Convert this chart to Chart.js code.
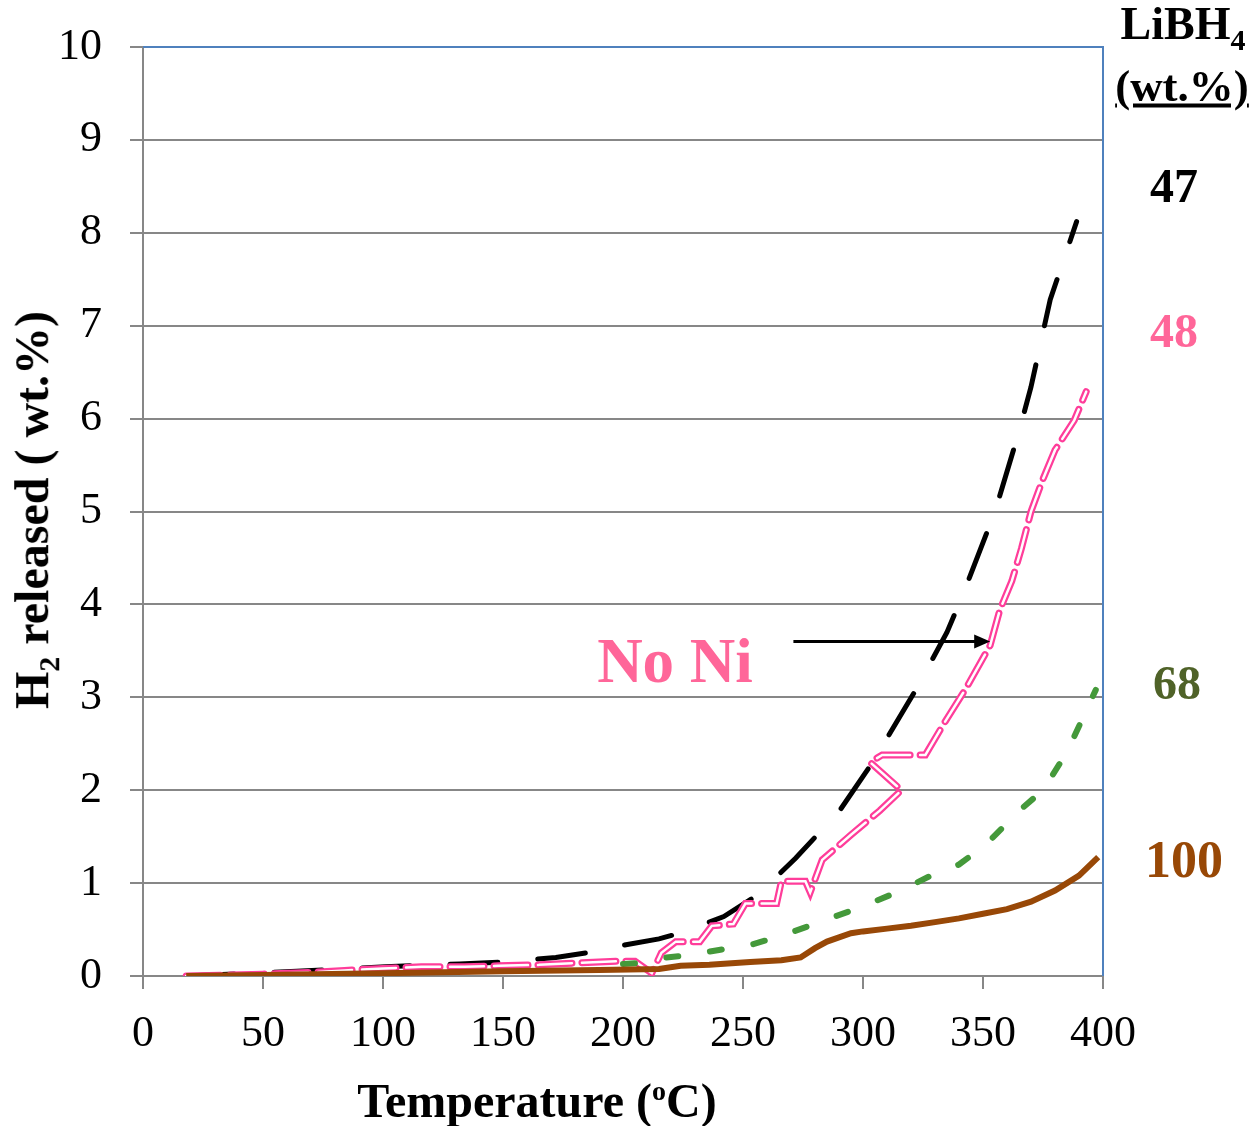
<!DOCTYPE html>
<html>
<head>
<meta charset="utf-8">
<script src="https://cdn.jsdelivr.net/npm/chart.js@4"></script>
<style>
  body { margin: 0; background: #fff; }
  #wrap { position: relative; width: 1253px; height: 1126px; font-family: 'Liberation Serif', 'Times New Roman', serif; }
  #wrap canvas { position: absolute; left: 0; top: 0; }
  .lbl { position: absolute; font-weight: bold; line-height: 1; white-space: nowrap; transform: translate(-50%, -50%); }
</style>
</head>
<body>
<div id="wrap">
  <canvas id="chart" width="1253" height="1126"></canvas>
  <div class="lbl" style="left:36px; top:510px; font-size:48px; transform: translate(-50%,-50%) rotate(-90deg);">H<sub style="font-size:30px;">2</sub> released ( wt.%)</div>
  <div class="lbl" style="left:537px; top:1101px; font-size:48px;">Temperature (<sup style="font-size:28px;">o</sup>C)</div>
  <div class="lbl" style="left:1183px; top:28px; font-size:46px;">LiBH<sub style="font-size:30px;">4</sub></div>
  <div class="lbl" style="left:1182px; top:86px; font-size:45px; text-decoration: underline;">(wt.%)</div>
  <div class="lbl" style="left:1174px; top:186px; font-size:48px; color:#000;">47</div>
  <div class="lbl" style="left:1174px; top:331px; font-size:48px; color:#ff6699;">48</div>
  <div class="lbl" style="left:1177px; top:683px; font-size:48px; color:#4f6228;">68</div>
  <div class="lbl" style="left:1184px; top:860px; font-size:52px; color:#984806;">100</div>
  <div class="lbl" style="left:675px; top:661px; font-size:63px; color:#ff6699;">No Ni</div>
</div>
<script>
// 47 wt.% LiBH4
const tempBlack = [18, 64, 101, 132, 150, 172, 185, 200, 215, 225, 242, 256, 272, 290, 304, 322, 335, 342, 355, 365, 370, 378, 389];
const h2Black   = [0, 0.05, 0.1, 0.13, 0.15, 0.2, 0.25, 0.33, 0.4, 0.47, 0.64, 0.87, 1.27, 1.77, 2.3, 3.08, 3.7, 4.13, 5.0, 5.86, 6.34, 7.28, 8.12];

// 48 wt.% LiBH4 (no Ni) - zig-zags around 305 C
const tempPink = [18, 50, 70, 84, 100, 116, 134, 148, 165, 180, 197, 205, 212, 216, 222, 232, 237, 246, 251, 264, 266, 276, 278, 283, 295, 307, 316, 303, 308, 326, 334, 343, 353, 357, 362, 366, 370, 375, 380, 388, 393];
const h2Pink   = [0, 0.02, 0.04, 0.06, 0.08, 0.1, 0.1, 0.11, 0.12, 0.14, 0.16, 0.16, 0.03, 0.25, 0.37, 0.37, 0.54, 0.56, 0.78, 0.78, 1.02, 1.02, 0.9, 1.25, 1.52, 1.78, 2.0, 2.3, 2.38, 2.38, 2.73, 3.1, 3.56, 3.94, 4.25, 4.6, 5.0, 5.35, 5.66, 5.98, 6.29];

// 68 wt.% LiBH4
const tempGreen = [200, 208, 218, 226, 240, 254, 268, 284, 298, 315, 329, 340, 351, 366, 375, 385, 397];
const h2Green   = [0.13, 0.14, 0.2, 0.22, 0.28, 0.34, 0.45, 0.6, 0.73, 0.91, 1.09, 1.2, 1.41, 1.8, 2.0, 2.41, 3.08];

// 100 wt.% LiBH4
const tempBrown = [18, 50, 100, 150, 190, 215, 224, 236, 253, 266, 274, 280, 285, 295, 300, 310, 320, 330, 340, 350, 360, 370, 380, 390, 398];
const h2Brown   = [0, 0.01, 0.03, 0.05, 0.065, 0.075, 0.11, 0.12, 0.15, 0.17, 0.2, 0.3, 0.37, 0.46, 0.48, 0.51, 0.54, 0.58, 0.62, 0.67, 0.72, 0.8, 0.92, 1.08, 1.28];

const xTicks = [0, 50, 100, 150, 200, 250, 300, 350, 400];
const yTicks = [0, 1, 2, 3, 4, 5, 6, 7, 8, 9, 10];

// arrow pointing at the no-Ni curve
const arrowFrom = [271, 3.6];
const arrowTo = [353, 3.6];

const pts = (xs, ys) => xs.map((x, i) => ({ x: x, y: ys[i] }));
const font = "'Liberation Serif', 'Times New Roman', serif";
const gridCol = "#878787";

const extras = {
    id: "extras",
    afterDatasetsDraw(chart) {
        const ctx = chart.ctx;
        const a = chart.chartArea;
        const xs = chart.scales.x, ys = chart.scales.y;
        ctx.save();
        // blue frame on top / right
        ctx.strokeStyle = "#4f81bd";
        ctx.lineWidth = 2;
        ctx.beginPath();
        ctx.moveTo(a.left, a.top);
        ctx.lineTo(a.right, a.top);
        ctx.lineTo(a.right, a.bottom);
        ctx.stroke();
        // arrow
        const x1 = xs.getPixelForValue(arrowFrom[0]), y1 = ys.getPixelForValue(arrowFrom[1]);
        const x2 = xs.getPixelForValue(arrowTo[0]), y2 = ys.getPixelForValue(arrowTo[1]);
        ctx.strokeStyle = "#000";
        ctx.fillStyle = "#000";
        ctx.lineWidth = 3;
        ctx.beginPath();
        ctx.moveTo(x1, y1);
        ctx.lineTo(x2 - 14, y2);
        ctx.stroke();
        ctx.beginPath();
        ctx.moveTo(x2, y2);
        ctx.lineTo(x2 - 16, y2 - 7);
        ctx.lineTo(x2 - 16, y2 + 7);
        ctx.closePath();
        ctx.fill();
        ctx.restore();
    }
};

new Chart(document.getElementById("chart"), {
    type: "scatter",
    data: {
        datasets: [
            {
                data: pts(tempBrown, h2Brown),
                showLine: true, borderColor: "#984807", borderWidth: 6,
                pointRadius: 0, order: 1
            },
            {
                data: pts(tempGreen, h2Green),
                showLine: true, borderColor: "#44993a", borderWidth: 6,
                borderDash: [12, 32], borderCapStyle: "round",
                pointRadius: 0, order: 2
            },
            {
                data: pts(tempPink, h2Pink),
                showLine: true, borderColor: "#ffffff", borderWidth: 2.5,
                borderDash: [34, 10], borderCapStyle: "round",
                pointRadius: 0, order: 3
            },
            {
                data: pts(tempPink, h2Pink),
                showLine: true, borderColor: "#ff3d9a", borderWidth: 7,
                borderDash: [34, 10], borderCapStyle: "round",
                pointRadius: 0, order: 4
            },
            {
                data: pts(tempBlack, h2Black),
                showLine: true, borderColor: "#000000", borderWidth: 5,
                borderDash: [48, 40], borderCapStyle: "round",
                pointRadius: 0, order: 5
            }
        ]
    },
    options: {
        responsive: false,
        animation: false,
        layout: { padding: { top: 47, right: 150, left: 0, bottom: 0 } },
        plugins: { legend: { display: false }, tooltip: { enabled: false } },
        scales: {
            x: {
                type: "linear", min: 0, max: 400,
                afterBuildTicks: s => { s.ticks = xTicks.map(v => ({ value: v })); },
                afterFit: s => { s.height = 150; s.paddingLeft = 0; s.paddingRight = 0; },
                grid: { drawOnChartArea: false, color: gridCol, lineWidth: 2, tickLength: 13 },
                border: { color: gridCol, width: 2 },
                ticks: { color: "#000", font: { family: font, size: 44 }, padding: 19, maxRotation: 0 }
            },
            y: {
                type: "linear", min: 0, max: 10,
                afterBuildTicks: s => { s.ticks = yTicks.map(v => ({ value: v })); },
                afterFit: s => { s.width = 143; s.paddingTop = 0; s.paddingBottom = 0; },
                grid: { color: gridCol, lineWidth: 2, tickLength: 13 },
                border: { color: gridCol, width: 2 },
                ticks: { color: "#000", font: { family: font, size: 44 }, padding: 28 }
            }
        }
    },
    plugins: [extras]
});
</script>
</body>
</html>
